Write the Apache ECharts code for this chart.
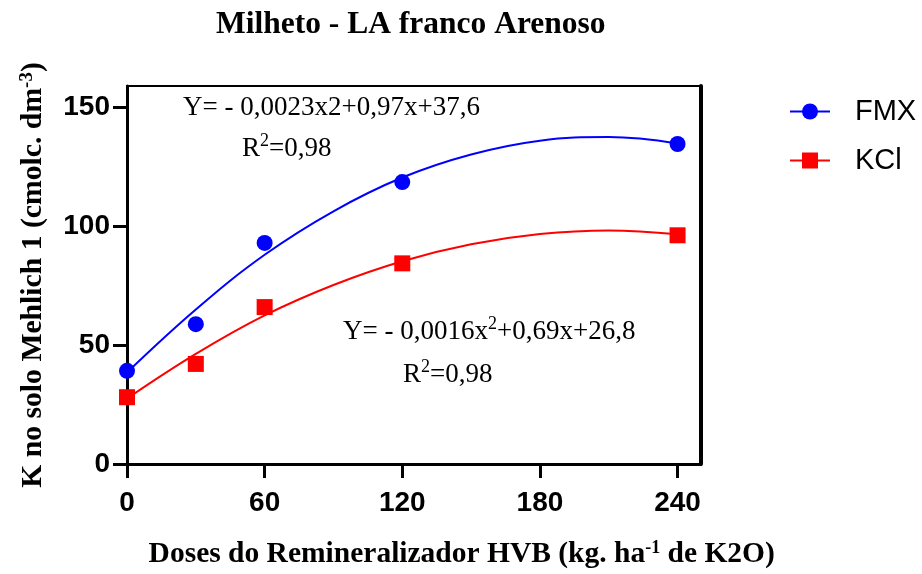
<!DOCTYPE html>
<html>
<head>
<meta charset="utf-8">
<script src="https://cdn.jsdelivr.net/npm/echarts@6/dist/echarts.min.js"></script>
<style>html,body{margin:0;padding:0;background:#fff}#c{width:922px;height:574px}</style>
</head>
<body>
<div id="c"></div>
<script>
// Observed data points
var doses = [0, 30, 60, 120, 240];
var fmxValues = [39.2, 58.8, 93.0, 118.6, 134.6];
var kclValues = [28.1, 42.1, 66.0, 84.4, 96.2];
// Fitted curves
var curveX = [0, 30, 60, 90, 120, 150, 180, 210, 240];
var fmxCurve = [38.5, 65, 88, 106.3, 120.5, 130.2, 136, 137.5, 134.8];
var kclCurve = [27.5, 46.3, 62.5, 75.3, 85.3, 92.4, 96.7, 98.2, 96.6];
// Tick labels
var xTicks = [0, 60, 120, 180, 240];
var yTicks = [0, 50, 100, 150];

function pairs(xs, ys) { return xs.map(function (x, i) { return [x, ys[i]]; }); }

var serif = '"Liberation Serif","Times New Roman",serif';
var sans = '"Liberation Sans",Arial,sans-serif';
var BLUE = '#0000FF', RED = '#FF0000';
var supStyle = { s: { fontFamily: serif, fontSize: 18, verticalAlign: 'top', fill: '#000', padding: [0, 0, 16, 0] } };

var chart = echarts.init(document.getElementById('c'));
chart.setOption({
  animation: false,
  title: {
    text: 'Milheto - LA franco Arenoso',
    left: 216, top: 9, padding: 0,
    textStyle: { fontFamily: serif, fontWeight: 'bold', fontSize: 31.5, color: '#000' }
  },
  legend: {
    orient: 'vertical', left: 789, top: 97, padding: 0, itemWidth: 40, itemHeight: 20, itemGap: 20,
    data: ['FMX', 'KCl'],
    textStyle: { fontFamily: sans, fontSize: 29, color: '#000', padding: [0, 0, 0, 20] }
  },
  grid: { left: 127, right: 221.5, top: 86, bottom: 107.3, show: true, borderColor: '#000', borderWidth: 2, containLabel: false },
  xAxis: {
    type: 'value', min: 0, max: 250, interval: 60,
    axisLine: { show: true, lineStyle: { color: '#000', width: 3 } },
    axisTick: { show: true, length: 14, lineStyle: { color: '#000', width: 3 }, customValues: xTicks },
    axisLabel: { customValues: xTicks, margin: 25, fontFamily: sans, fontWeight: 'bold', fontSize: 28, color: '#000' },
    splitLine: { show: false },
    name: 'Doses do Remineralizador HVB (kg. ha{s|-1} de K2O)',
    nameLocation: 'middle', nameGap: 75,
    nameTextStyle: { fontFamily: serif, fontWeight: 'bold', fontSize: 29.5, color: '#000', padding: [0, 0, 0, 96],
      rich: { s: { fontFamily: serif, fontWeight: 'bold', fontSize: 18, verticalAlign: 'top', color: '#000' } } }
  },
  yAxis: [{
    type: 'value', min: 0, max: 159, interval: 50,
    axisLine: { show: true, lineStyle: { color: '#000', width: 3 } },
    axisTick: { show: true, length: 14, lineStyle: { color: '#000', width: 3 }, customValues: yTicks },
    axisLabel: { customValues: yTicks, margin: 17, fontFamily: sans, fontWeight: 'bold', fontSize: 28, color: '#000' },
    splitLine: { show: false },
    name: 'K no solo Mehlich 1 (cmolc. dm{s|-3})',
    nameLocation: 'middle', nameGap: 79,
    nameTextStyle: { fontFamily: serif, fontWeight: 'bold', fontSize: 29.7, color: '#000',
      rich: { s: { fontFamily: serif, fontWeight: 'bold', fontSize: 19, verticalAlign: 'top', color: '#000' } } }
  }, {
    type: 'value', min: 0, max: 159, position: 'right',
    axisLine: { show: true, lineStyle: { color: '#000', width: 4 } },
    axisTick: { show: false }, axisLabel: { show: false }, splitLine: { show: false }
  }],
  graphic: [
    { type: 'text', x: 183, y: 108, style: { text: 'Y= - 0,0023x2+0,97x+37,6', fontFamily: serif, fontSize: 27, fill: '#000', verticalAlign: 'middle' } },
    { type: 'text', x: 242, y: 149, style: { text: 'R{s|2}=0,98', fontFamily: serif, fontSize: 27, fill: '#000', verticalAlign: 'middle', rich: supStyle } },
    { type: 'text', x: 343, y: 332, style: { text: 'Y= - 0,0016x{s|2}+0,69x+26,8', fontFamily: serif, fontSize: 27, fill: '#000', verticalAlign: 'middle', rich: supStyle } },
    { type: 'text', x: 403, y: 375, style: { text: 'R{s|2}=0,98', fontFamily: serif, fontSize: 27, fill: '#000', verticalAlign: 'middle', rich: supStyle } }
  ],
  series: [
    { name: 'FMX', type: 'line', data: pairs(curveX, fmxCurve), smooth: 0.4, symbol: 'circle', showSymbol: false,
      lineStyle: { color: BLUE, width: 2 }, itemStyle: { color: BLUE }, z: 2 },
    { name: 'FMX', type: 'scatter', data: pairs(doses, fmxValues), symbol: 'circle', symbolSize: 16,
      itemStyle: { color: BLUE, opacity: 1 }, z: 3 },
    { name: 'KCl', type: 'line', data: pairs(curveX, kclCurve), smooth: 0.4, symbol: 'rect', showSymbol: false,
      lineStyle: { color: RED, width: 2 }, itemStyle: { color: RED }, z: 2 },
    { name: 'KCl', type: 'scatter', data: pairs(doses, kclValues), symbol: 'rect', symbolSize: 16,
      itemStyle: { color: RED, opacity: 1 }, z: 3 }
  ]
});
</script>
</body>
</html>
